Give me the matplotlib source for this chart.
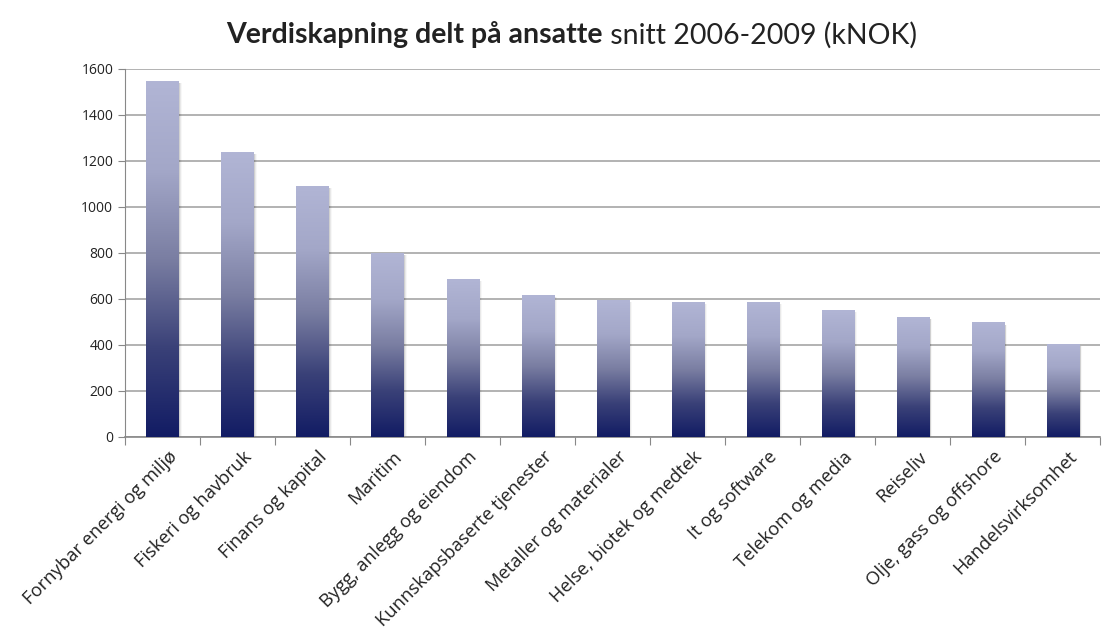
import numpy as np
import matplotlib
matplotlib.use("Agg")
import matplotlib.pyplot as plt
from matplotlib.colors import LinearSegmentedColormap
from matplotlib.patches import Rectangle

categories = [
    "Fornybar energi og miljø", "Fiskeri og havbruk", "Finans og kapital",
    "Maritim", "Bygg, anlegg og eiendom", "Kunnskapsbaserte tjenester",
    "Metaller og materialer", "Helse, biotek og medtek", "It og software",
    "Telekom og media", "Reiseliv", "Olje, gass og offshore",
    "Handelsvirksomhet",
]
values = [1548, 1239, 1091, 797, 686, 617, 596, 587, 587, 552, 522, 496, 404]
yticks = [0, 200, 400, 600, 800, 1000, 1200, 1400, 1600]

plt.rcParams["font.family"] = ["Open Sans", "DejaVu Sans"]

cmap = LinearSegmentedColormap.from_list(
    "bar", ["#121c64", "#3a4178", "#7a7ea2", "#a3a7c8", "#b1b5d5"])
grad = np.linspace(0, 1, 256).reshape(-1, 1)

fig = plt.figure(figsize=(11.06, 6.33), dpi=100)
ax = fig.add_axes([0.113, 0.310, 0.882, 0.581])

x = np.arange(len(categories))
width = 0.43

for xi, v in zip(x, values):
    # soft shadow to the right
    for k, a in enumerate([0.10, 0.06, 0.03]):
        ax.add_patch(Rectangle((xi - width / 2 + 0.02 + k * 0.012, -8), width, v,
                               facecolor="#000000", alpha=a, lw=0, zorder=2))
    ax.imshow(grad, cmap=cmap, origin="lower", aspect="auto",
              extent=(xi - width / 2, xi + width / 2, 0, v), zorder=3)

ax.set_xlim(-0.5, len(categories) - 0.5)
ax.set_ylim(0, 1600)

ax.set_yticks(yticks)
ax.yaxis.grid(True, color="#a6a6a6", lw=1.2)
ax.set_axisbelow(True)
ax.tick_params(axis="y", length=5, color="#888888", labelsize=10, labelcolor="#222222")

ax.set_xticks(np.arange(len(categories) + 1) - 0.5, minor=False)
ax.set_xticklabels([])
ax.tick_params(axis="x", length=6, color="#888888", direction="out")
ax.set_xticks(x + 0.07, minor=True)
ax.set_xticklabels(categories, minor=True, rotation=45, ha="right",
                   rotation_mode="anchor", fontsize=13.2, color="#222222")
ax.tick_params(axis="x", which="minor", length=0, pad=8)

for s in ["top", "right"]:
    ax.spines[s].set_visible(False)
ax.spines["left"].set_color("#888888")
ax.spines["bottom"].set_color("#888888")
ax.spines["bottom"].set_linewidth(1.2)

# title: bold part + regular part, centered together
fig.canvas.draw()
r = fig.canvas.get_renderer()
t1 = fig.text(0, 0.945, "Verdiskapning delt på ansatte", fontsize=20.5,
              fontweight="bold", color="#222222", va="center",
              family=["Lato", "DejaVu Sans"])
t2 = fig.text(0, 0.945, " snitt 2006-2009 (kNOK)", fontsize=20.5,
              color="#222222", va="center", family=["Lato", "DejaVu Sans"])
w1 = t1.get_window_extent(r).width / fig.bbox.width
w2 = t2.get_window_extent(r).width / fig.bbox.width
x0 = 0.517 - (w1 + w2) / 2
t1.set_x(x0)
t2.set_x(x0 + w1)

fig.savefig("out.png", dpi=100)
